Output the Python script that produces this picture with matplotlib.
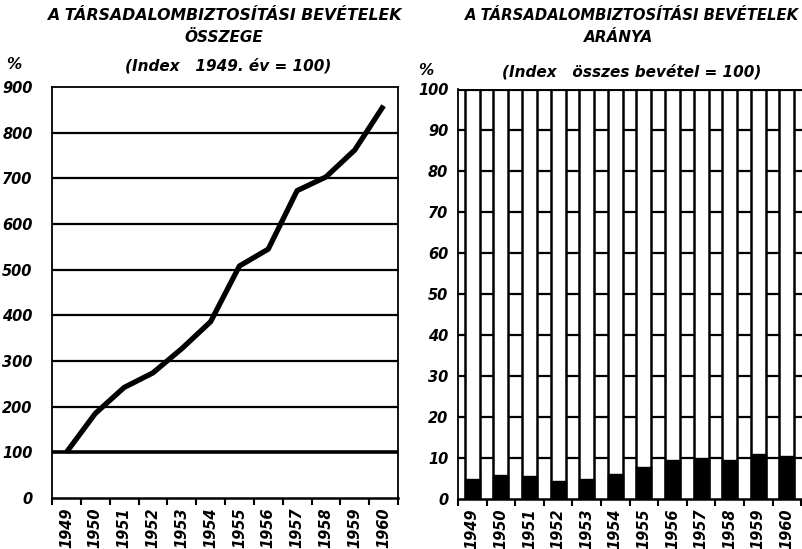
import numpy as np
import matplotlib
matplotlib.use('Agg')
import matplotlib.pyplot as plt

# adatok (leolvasva az eredeti ábráról)
evek = ['1949', '1950', '1951', '1952', '1953', '1954',
        '1955', '1956', '1957', '1958', '1959', '1960']
osszeg_index = [100, 185, 242, 274, 327, 386, 508, 545, 673, 703, 762, 859]
arany_index = [4.9, 5.9, 5.7, 4.5, 5.0, 6.2, 7.9, 9.4, 9.9, 9.6, 10.9, 10.4]

bal_yticks = [0, 100, 200, 300, 400, 500, 600, 700, 800, 900]
jobb_yticks = [0, 10, 20, 30, 40, 50, 60, 70, 80, 90, 100]

W, H = 802, 549
font = dict(family='DejaVu Sans', weight='bold', style='italic')


def px(x, y):
    # pixel -> figura koordináta
    return x / W, 1 - y / H


fig = plt.figure(figsize=(W / 100, H / 100), dpi=100)
fig.patch.set_facecolor('white')

x = np.arange(len(evek))

# ---- bal oldali ábra: összeg ----
ax1 = fig.add_axes([52 / W, 1 - 498 / H, 346 / W, 411 / H])
ax1.set_xlim(-0.5, len(evek) - 0.5)
ax1.set_ylim(0, 900)
for v in bal_yticks[1:-1]:
    ax1.axhline(v, color='black', lw=2.6 if v == 100 else 1.6, zorder=1)
ax1.plot(x, osszeg_index, color='black', lw=3.8, solid_capstyle='butt',
         solid_joinstyle='round', zorder=3)
ax1.set_yticks(bal_yticks)
ax1.set_yticklabels([str(v) for v in bal_yticks], fontsize=10.5, **font)
ax1.tick_params(axis='y', length=0, pad=14)

# ---- jobb oldali ábra: arány ----
ax2 = fig.add_axes([458 / W, 1 - 499 / H, 344 / W, 410 / H])
ax2.set_xlim(-0.5, -0.5 + 344 / 28.6)
ax2.set_ylim(0, 100)
for v in jobb_yticks[1:-1]:
    ax2.axhline(v, color='black', lw=1.6, zorder=0)
ax2.axhline(100, color='black', lw=3, zorder=4)
ax2.bar(x, 100, width=0.52, color='white', edgecolor='black', lw=1.8, zorder=2)
ax2.bar(x, arany_index, width=0.52, color='black', edgecolor='black', lw=1.0, zorder=3)
ax2.set_yticks(jobb_yticks)
ax2.set_yticklabels([str(v) for v in jobb_yticks], fontsize=10.5, **font)
ax2.tick_params(axis='y', length=0, pad=7)

for ax in (ax1, ax2):
    ax.set_xticks(x)
    ax.set_xticklabels(evek, rotation=90, fontsize=10.5, **font)
    ax.set_xticks(np.arange(-0.5, len(evek)), minor=True)
    ax.tick_params(axis='x', which='major', length=0, pad=7)
    ax.tick_params(axis='x', which='minor', length=5, width=1.5, direction='out')
    for s in ax.spines.values():
        s.set_linewidth(1.3)
    ax.spines['bottom'].set_linewidth(1.8)
    ax.set_facecolor('white')
ax2.spines['right'].set_visible(False)
ax2.spines['top'].set_visible(False)

# ---- címek ----
fig.text(*px(224, 16), 'A TÁRSADALOMBIZTOSÍTÁSI BEVÉTELEK', ha='center', va='center',
         fontsize=11.3, **font)
fig.text(*px(224, 38), 'ÖSSZEGE', ha='center', va='center', fontsize=11, **font)
fig.text(*px(228, 66), '(Index   1949. év = 100)', ha='center', va='center',
         fontsize=11, **font)
fig.text(*px(14, 64), '%', ha='center', va='center', fontsize=11, **font)

fig.text(*px(465, 16), 'A TÁRSADALOMBIZTOSÍTÁSI BEVÉTELEK', ha='left', va='center',
         fontsize=10.7, **font)
fig.text(*px(619, 38), 'ARÁNYA', ha='center', va='center', fontsize=11, **font)
fig.text(*px(632, 72), '(Index   összes bevétel = 100)', ha='center', va='center',
         fontsize=11, **font)
fig.text(*px(426, 70), '%', ha='center', va='center', fontsize=11, **font)

fig.savefig('out.png', dpi=100)
